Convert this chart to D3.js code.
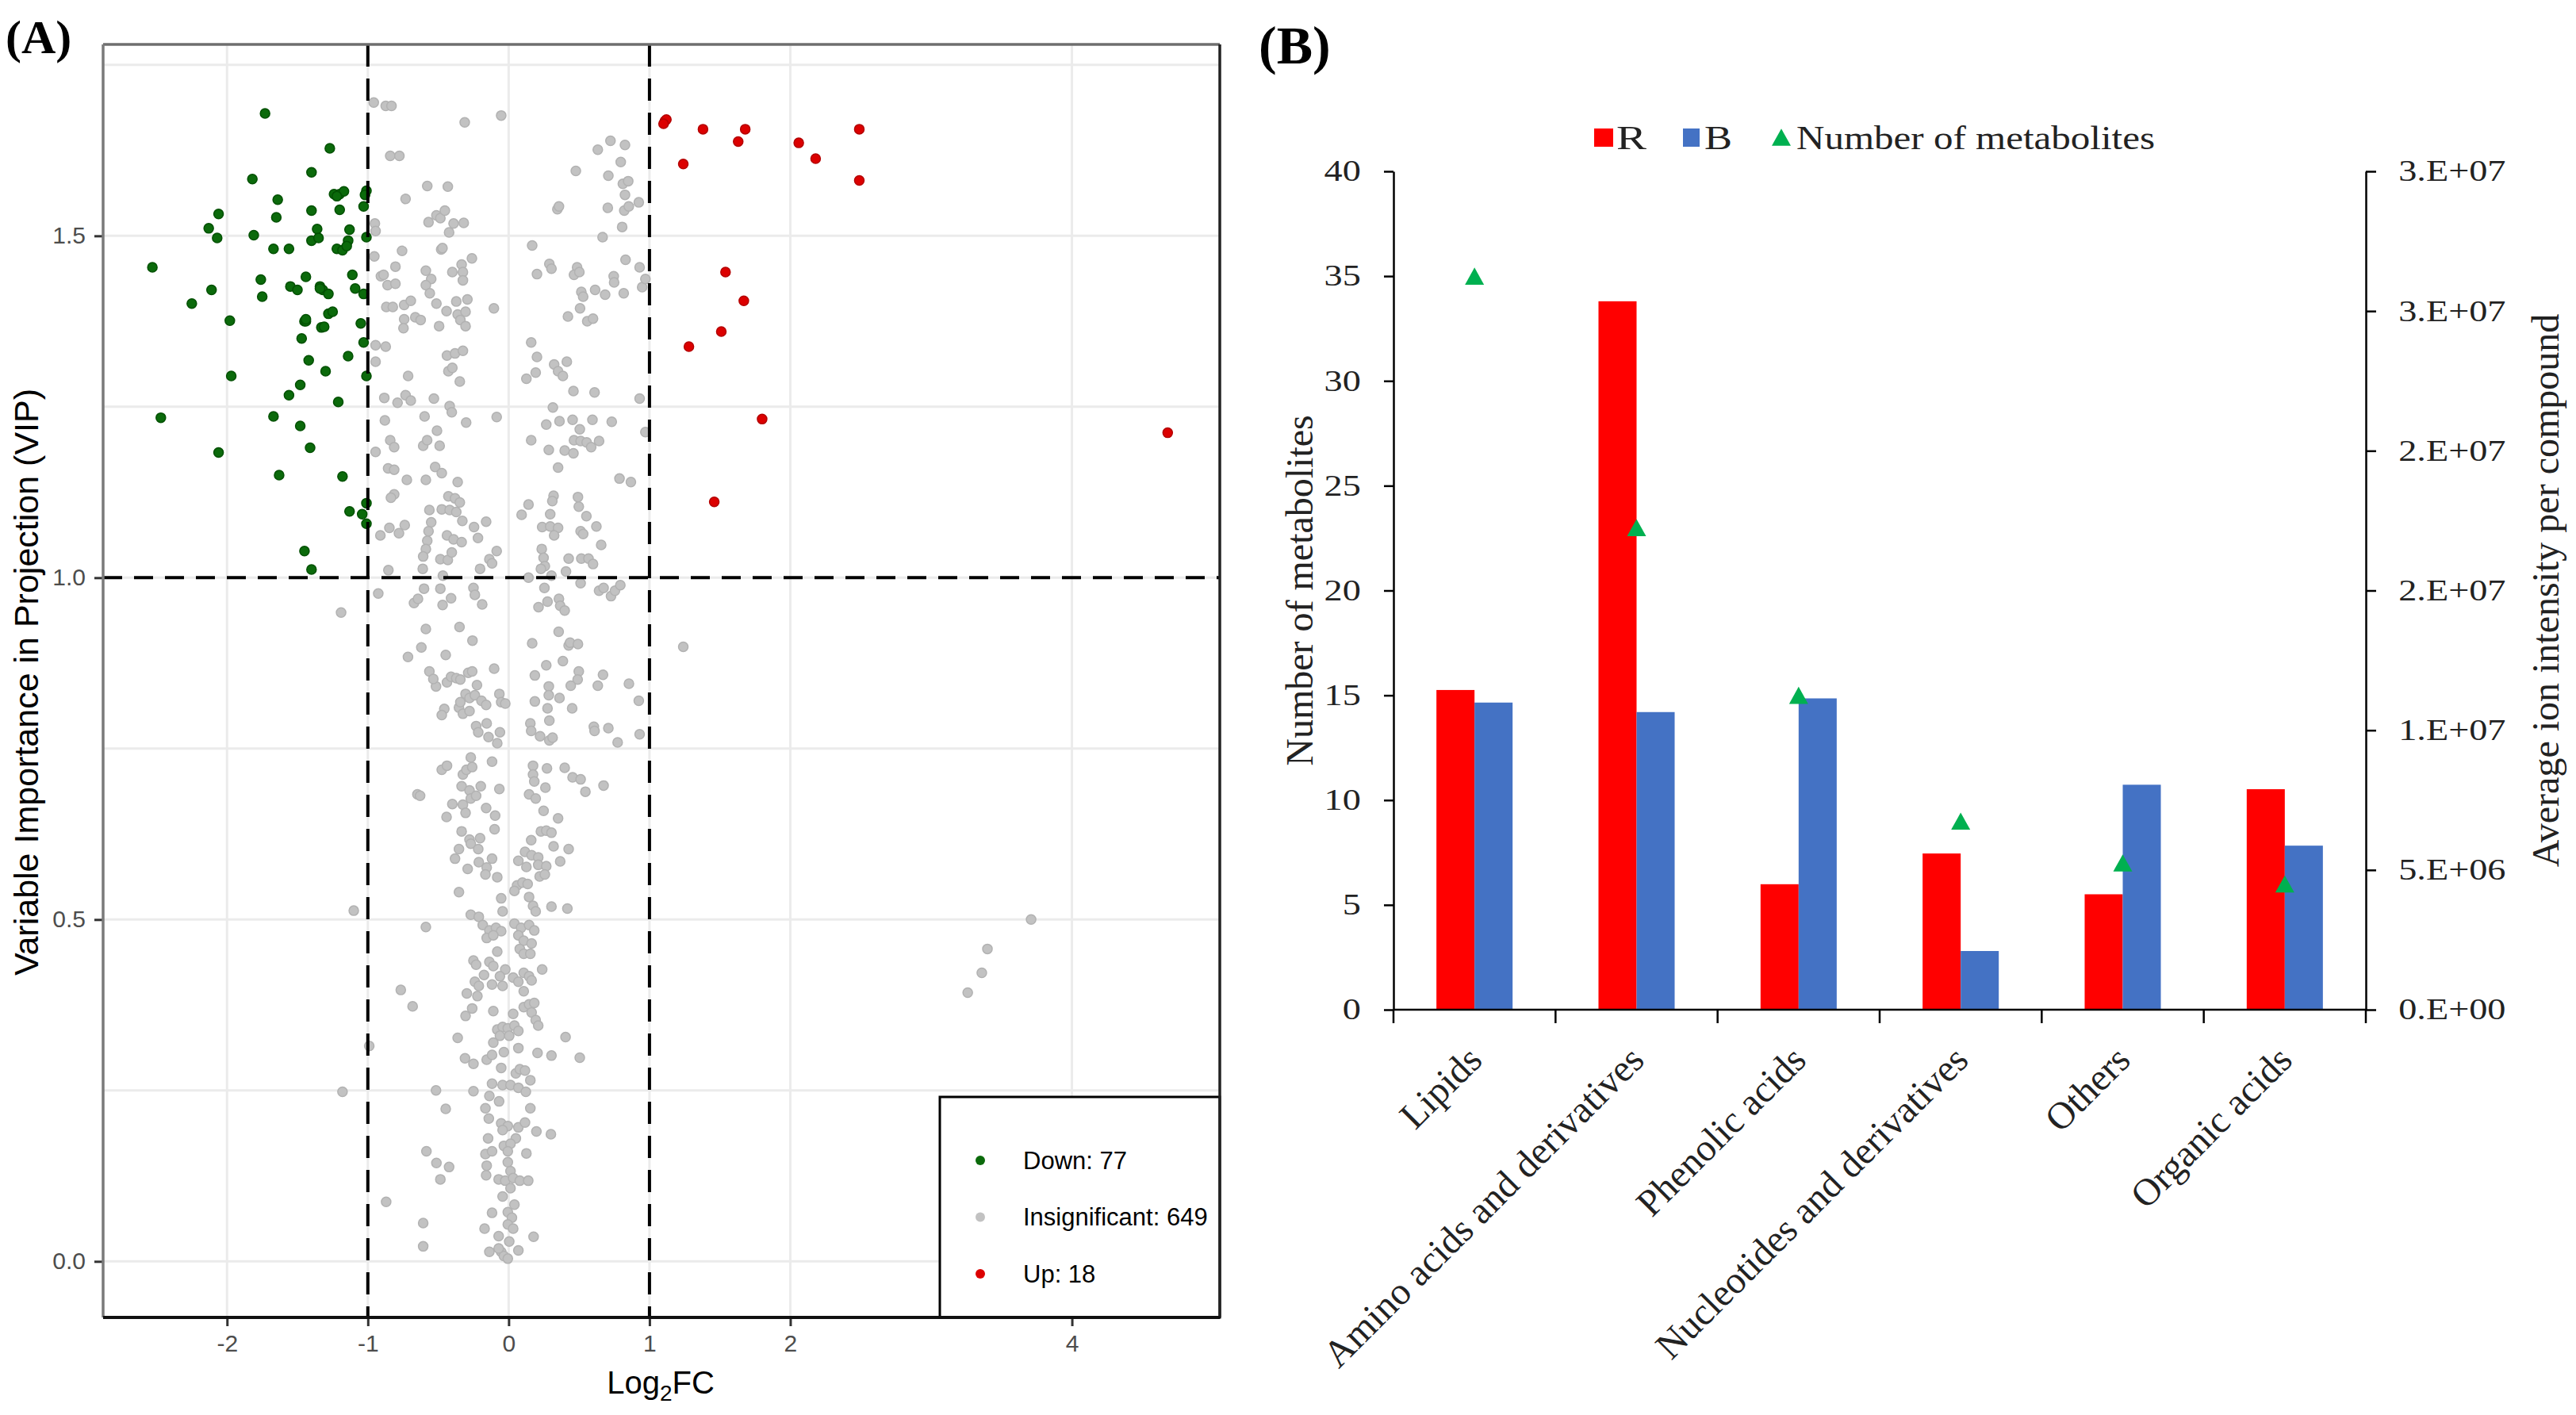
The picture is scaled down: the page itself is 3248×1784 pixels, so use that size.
<!DOCTYPE html>
<html><head><meta charset="utf-8">
<script src="https://cdn.jsdelivr.net/npm/d3@7"></script>
<style>html,body{margin:0;padding:0;background:#fff}svg{display:block}</style>
</head><body>
<svg id="c" width="3248" height="1784"></svg>
<script>
// ---------------- Panel A data (Log2FC, VIP) ----------------
const downPoints = [
[-1.73,1.679],[-1.27,1.628],[-1.82,1.583],[-1.40,1.593],[-1.64,1.553],[-1.24,1.561],[-1.20,1.561],[-1.17,1.565],[-1.01,1.566],
[-1.40,1.537],[-1.20,1.538],[-1.03,1.543],[-2.06,1.532],[-1.65,1.527],[-2.13,1.511],[-2.07,1.497],[-1.81,1.501],[-1.36,1.510],
[-1.40,1.493],[-1.35,1.497],[-1.13,1.509],[-1.01,1.498],[-1.14,1.493],[-1.67,1.481],[-1.56,1.481],[-1.22,1.481],[-1.18,1.479],
[-1.15,1.485],[-2.53,1.454],[-1.11,1.443],[-1.76,1.436],[-1.44,1.440],[-2.11,1.421],[-1.75,1.411],[-1.55,1.426],[-1.50,1.421],
[-1.34,1.426],[-1.32,1.421],[-1.28,1.415],[-1.09,1.423],[-1.03,1.415],[-2.25,1.401],[-1.28,1.386],[-1.25,1.389],[-1.98,1.376],
[-1.45,1.375],[-1.44,1.375],[-1.33,1.366],[-1.31,1.367],[-1.05,1.372],[-1.03,1.344],[-1.47,1.350],[-1.14,1.324],[-1.42,1.318],
[-1.30,1.302],[-1.97,1.295],[-1.01,1.295],[-1.48,1.282],[-1.56,1.267],[-1.21,1.257],[-2.47,1.234],[-1.67,1.236],[-1.48,1.222],
[-1.41,1.190],[-2.06,1.183],[-1.63,1.150],[-1.18,1.148],[-1.13,1.097],[-1.04,1.093],[-1.01,1.109],[-1.01,1.079],[-1.45,1.039],
[-1.40,1.012],[-1.22,1.558],[-1.34,1.423],[-1.44,1.378],[-1.02,1.560]
];
const upPoints = [
[1.11,1.668],[1.12,1.670],[1.10,1.664],[1.38,1.656],[1.68,1.656],[1.63,1.638],[2.06,1.636],[2.49,1.656],[2.18,1.613],
[1.24,1.605],[2.49,1.581],[1.54,1.447],[1.67,1.405],[1.51,1.360],[1.28,1.338],[1.80,1.232],[4.68,1.212],[1.46,1.111]
];
const insigPoints = [
[-0.958,1.695],[-0.873,1.690],[-0.832,1.690],[-0.312,1.666],[-0.053,1.676],[-0.841,1.617],[-0.776,1.617],[-0.578,1.573],[-0.432,1.572],
[-0.732,1.554],[-0.569,1.520],[-0.513,1.530],[-0.485,1.526],[-0.453,1.537],[-0.391,1.518],[-0.319,1.519],[-0.423,1.505],[-0.950,1.518],
[-0.945,1.507],[-0.757,1.478],[-0.479,1.480],[-0.470,1.482],[-0.261,1.467],[-0.804,1.455],[-0.954,1.470],[-0.588,1.449],[-0.907,1.441],
[-0.888,1.443],[-0.860,1.428],[-0.804,1.430],[-0.550,1.437],[-0.588,1.428],[-0.560,1.416],[-0.400,1.447],[-0.334,1.458],[-0.325,1.447],
[-0.325,1.435],[-0.869,1.396],[-0.823,1.396],[-0.742,1.399],[-0.695,1.405],[-0.513,1.401],[-0.441,1.390],[-0.372,1.404],[-0.293,1.407],
[-0.362,1.385],[-0.306,1.389],[-0.343,1.377],[-0.306,1.368],[-0.742,1.378],[-0.663,1.381],[-0.625,1.377],[-0.747,1.365],[-0.494,1.368],
[-0.105,1.394],[-0.945,1.340],[-0.873,1.338],[-0.945,1.316],[-0.438,1.325],[-0.381,1.328],[-0.325,1.332],[-0.428,1.302],[-0.400,1.307],
[-0.714,1.295],[-0.347,1.287],[-0.883,1.263],[-0.789,1.256],[-0.732,1.267],[-0.695,1.259],[-0.531,1.262],[-0.419,1.251],[-0.404,1.242],
[-0.879,1.230],[-0.597,1.236],[-0.509,1.215],[-0.302,1.227],[-0.085,1.235],[-0.841,1.201],[-0.813,1.191],[-0.607,1.193],[-0.579,1.201],
[-0.490,1.193],[-0.945,1.184],[-0.856,1.160],[-0.813,1.158],[-0.522,1.162],[-0.475,1.153],[-0.723,1.143],[-0.588,1.143],[-0.362,1.140],
[0.723,1.639],[0.633,1.626],[0.826,1.633],[0.796,1.608],[0.477,1.595],[0.708,1.588],[0.811,1.576],[0.849,1.580],[0.826,1.560],
[0.924,1.549],[0.704,1.541],[0.821,1.537],[0.853,1.543],[0.346,1.539],[0.357,1.543],[0.806,1.513],[0.667,1.498],[0.167,1.486],
[0.289,1.459],[0.304,1.452],[0.201,1.444],[0.486,1.454],[0.464,1.443],[0.502,1.447],[0.830,1.465],[0.930,1.454],[0.746,1.441],
[0.749,1.432],[0.948,1.425],[0.971,1.437],[0.614,1.421],[0.685,1.414],[0.817,1.416],[0.516,1.418],[0.529,1.411],[0.507,1.394],
[0.421,1.382],[0.558,1.375],[0.599,1.379],[0.160,1.344],[0.201,1.323],[0.192,1.300],[0.126,1.291],[0.323,1.312],[0.351,1.302],
[0.385,1.295],[0.413,1.316],[0.460,1.273],[0.610,1.271],[0.930,1.262],[0.314,1.249],[0.267,1.224],[0.361,1.229],[0.454,1.231],
[0.505,1.217],[0.595,1.231],[0.732,1.228],[0.971,1.213],[0.160,1.201],[0.464,1.201],[0.511,1.200],[0.554,1.198],[0.586,1.191],
[0.642,1.200],[0.285,1.187],[0.398,1.186],[0.460,1.182],[0.351,1.161],[0.787,1.145],[0.868,1.140],
[-0.813,1.122],[-0.836,1.117],[-0.563,1.099],[-0.475,1.100],[-0.428,1.119],[-0.381,1.116],[-0.347,1.110],[-0.419,1.099],[-0.372,1.096],
[-0.329,1.083],[-0.550,1.081],[-0.911,1.062],[-0.847,1.073],[-0.779,1.065],[-0.738,1.077],[-0.569,1.068],[-0.578,1.054],[-0.588,1.042],
[-0.607,1.031],[-0.610,1.013],[-0.438,1.062],[-0.391,1.056],[-0.334,1.052],[-0.246,1.074],[-0.218,1.058],[-0.160,1.082],[-0.485,1.027],
[-0.432,1.026],[-0.404,1.037],[-0.137,1.027],[-0.118,1.021],[-0.085,1.039],[-0.203,1.013],[-0.854,1.011],[-0.467,1.003],
[0.141,1.107],[0.092,1.092],[0.319,1.120],[0.310,1.112],[0.295,1.093],[0.492,1.118],[0.498,1.104],[0.552,1.090],[0.623,1.075],
[0.238,1.074],[0.295,1.075],[0.351,1.073],[0.323,1.062],[0.511,1.068],[0.529,1.064],[0.657,1.048],[0.235,1.042],[0.248,1.029],
[0.257,1.017],[0.229,1.013],[0.426,1.028],[0.516,1.028],[0.567,1.028],[0.599,1.020],[0.407,1.009],[0.141,1.000],[0.304,1.003],
[-0.926,0.977],[-0.672,0.963],[-0.644,0.969],[-0.601,0.984],[-0.485,0.984],[-0.409,0.970],[-0.469,0.960],[-0.250,0.985],[-0.240,0.975],
[-0.188,0.961],[0.254,0.985],[0.511,0.992],[0.642,0.981],[0.674,0.985],[0.727,0.973],[0.755,0.981],[0.793,0.989],[0.276,0.965],
[0.212,0.957],[0.357,0.969],[0.366,0.959],[0.398,0.952],[-0.588,0.925],[-0.349,0.928],[-0.257,0.908],[-0.620,0.898],[-0.715,0.884],
[-0.447,0.887],[0.167,0.904],[0.355,0.921],[0.426,0.901],[0.436,0.905],[0.492,0.903],[0.385,0.878],[0.267,0.872],[-0.103,0.867],
[-0.563,0.863],[-0.516,0.841],[-0.535,0.852],[-0.438,0.847],[-0.409,0.855],[-0.372,0.853],[-0.343,0.851],[-0.287,0.861],[-0.259,0.863],
[-0.225,0.843],[-0.306,0.830],[-0.278,0.824],[-0.240,0.828],[-0.193,0.820],[-0.160,0.814],[-0.353,0.810],[-0.325,0.801],[-0.278,0.805],
[-0.343,0.818],[-0.066,0.830],[-0.053,0.818],[-0.024,0.816],[-0.457,0.808],[-0.475,0.799],[0.186,0.857],[0.285,0.841],[0.285,0.828],
[0.361,0.824],[0.498,0.863],[0.490,0.851],[0.441,0.842],[0.633,0.842],[0.670,0.858],[0.854,0.845],[0.924,0.820],[0.186,0.819],
[0.276,0.809],[0.451,0.809],[0.289,0.791],[0.154,0.787],[0.160,0.776],[0.223,0.768],[0.289,0.762],[0.312,0.766],[0.605,0.782],
[0.610,0.776],[0.708,0.780],[0.774,0.759],[0.930,0.771],[-0.231,0.783],[-0.216,0.774],[-0.156,0.787],[-0.143,0.767],[-0.062,0.774],
[-0.081,0.758],[-0.269,0.737],[-0.118,0.731],[-0.475,0.719],[-0.438,0.725],[-0.325,0.712],[-0.300,0.719],[-0.259,0.723],[-0.334,0.695],
[-0.278,0.689],[-0.198,0.695],[-0.066,0.691],[-0.648,0.683],[-0.629,0.681],[-0.400,0.669],[-0.325,0.668],[-0.306,0.656],[-0.269,0.677],
[-0.231,0.681],[-0.160,0.663],[-0.096,0.652],[-0.441,0.650],[-0.100,0.632],[0.173,0.725],[0.173,0.712],[0.182,0.702],[0.272,0.721],
[0.398,0.722],[0.454,0.708],[0.511,0.705],[0.545,0.687],[0.674,0.696],[0.261,0.693],[0.145,0.683],[0.192,0.677],[0.248,0.659],
[0.351,0.648],[0.229,0.629],[0.267,0.630],[0.304,0.627],[0.160,0.616],[0.319,0.607],[0.426,0.603],[0.366,0.585],[0.116,0.599],
[0.163,0.594],[0.210,0.591],[0.069,0.586],[0.126,0.577],[0.210,0.580],[0.267,0.578],[0.220,0.563],[0.257,0.566],[-0.334,0.629],
[-0.278,0.617],[-0.269,0.611],[-0.203,0.619],[-0.216,0.603],[-0.353,0.603],[-0.381,0.589],[-0.212,0.584],[-0.156,0.576],[-0.118,0.589],
[-0.081,0.562],[-0.165,0.566],[-0.291,0.574],[-0.353,0.540],[-0.053,0.531],[0.060,0.550],[0.098,0.554],[0.135,0.552],[0.041,0.542],
[0.145,0.533],[0.173,0.520],[0.192,0.512],[0.304,0.519],[0.417,0.516],[-0.043,0.512],[-0.269,0.507],[-0.212,0.504],
[-0.588,0.489],[-0.184,0.492],[-0.137,0.484],[-0.090,0.488],[-0.053,0.483],[-0.156,0.473],[-0.109,0.477],[0.041,0.494],[0.088,0.488],
[0.145,0.492],[0.182,0.484],[0.069,0.477],[0.107,0.469],[0.163,0.465],[0.079,0.457],[0.107,0.450],[0.154,0.450],[-0.081,0.453],
[-0.250,0.440],[-0.231,0.434],[-0.137,0.438],[-0.109,0.432],[-0.024,0.427],[0.238,0.427],[-0.175,0.419],[-0.062,0.417],[0.032,0.415],
[0.069,0.409],[0.107,0.422],[0.145,0.417],[0.163,0.411],[-0.240,0.409],[-0.212,0.403],[-0.118,0.405],[-0.043,0.403],[-0.297,0.392],
[-0.222,0.388],[0.107,0.395],[-0.766,0.397],[-0.682,0.373],[-0.109,0.366],[-0.259,0.370],[-0.306,0.359],[0.032,0.362],[0.107,0.372],
[0.145,0.376],[0.182,0.378],[0.163,0.364],[0.192,0.353],[0.210,0.345],[-0.081,0.339],[-0.043,0.343],[-0.006,0.341],[0.041,0.345],
[0.069,0.337],[-0.062,0.330],[0.004,0.330],[-0.109,0.320],[-0.362,0.327],[0.404,0.328],[-0.034,0.306],[0.069,0.312],[0.205,0.305],
[0.304,0.301],[0.505,0.298],[-0.310,0.297],[-0.250,0.289],[-0.156,0.295],[-0.118,0.302],[-0.053,0.283],[0.051,0.275],[0.079,0.281],
[0.116,0.279],[0.154,0.265],[-0.118,0.260],[-0.043,0.258],[0.013,0.258],[0.069,0.254],[0.122,0.248],[-0.516,0.250],[-0.250,0.249],
[-0.137,0.242],[-0.068,0.234],[-0.447,0.223],[-0.165,0.224],[0.154,0.224],[-0.141,0.209],[-0.053,0.202],[-0.006,0.198],[0.069,0.196],
[0.116,0.203],[-0.043,0.192],[0.197,0.190],[0.300,0.186],[-0.146,0.180],[0.051,0.180],[-0.034,0.169],[0.013,0.172],[-0.006,0.161],
[0.126,0.158],[-0.584,0.161],[-0.165,0.157],[-0.118,0.161],[-0.156,0.140],[-0.513,0.144],[-0.423,0.138],[-0.006,0.145],[0.013,0.132],
[-0.160,0.126],[-0.071,0.120],[-0.024,0.118],[0.032,0.122],[0.079,0.118],[0.139,0.118],[-0.485,0.120],[0.013,0.107],[-0.043,0.095],
[0.041,0.083],[-0.118,0.071],[-0.006,0.072],[0.023,0.064],[-0.006,0.054],[0.032,0.048],[-0.607,0.056],[-0.171,0.048],[-0.071,0.037],
[0.004,0.029],[0.177,0.036],[-0.607,0.022],[-0.137,0.014],[-0.053,0.014],[-0.034,0.008],[-0.006,0.004],[0.069,0.016],[-0.071,0.019],
[3.71,0.500],[3.40,0.457],[3.36,0.422],[3.26,0.393],[1.24,0.899],[-1.19,0.949],[-1.10,0.513],[-1.18,0.248],[-0.99,0.315],[-0.87,0.087]
];
const xTicksA = [-2, -1, 0, 1, 2, 4];
const yTicksA = [0, 0.5, 1, 1.5];
const yMinorA = [0.25, 0.75, 1.25, 1.75];
const legendLabelsA = ["Down: 77", "Insignificant: 649", "Up: 18"];
const thresholdsX = [-1, 1];
const thresholdY = 1;

// ---------------- Panel B data ----------------
const categories = ["Lipids", "Amino acids and derivatives", "Phenolic acids", "Nucleotides and derivatives", "Others", "Organic acids"];
const seriesR = [1.144e7, 2.535e7, 4.49e6, 5.59e6, 4.13e6, 7.89e6];
const seriesB = [1.099e7, 1.065e7, 1.114e7, 2.1e6, 8.05e6, 5.87e6];
const metaboliteCounts = [35, 23, 15, 9, 7, 6];
const leftTicksB = [0, 5, 10, 15, 20, 25, 30, 35, 40];
const rightTicksB = [0, 5e6, 1e7, 1.5e7, 2e7, 2.5e7, 3e7];
const rightTickLabelsB = ["0.E+00", "5.E+06", "1.E+07", "2.E+07", "2.E+07", "3.E+07", "3.E+07"];

const SANS = "'Liberation Sans', Arial, sans-serif";
const SERIF = "'Liberation Serif', 'Times New Roman', serif";
const svg = d3.select("#c");
svg.append("rect").attr("width", 3248).attr("height", 1784).attr("fill", "#fff");

// ================= PANEL A =================
const A = { l: 130, r: 1538, t: 56, b: 1661 };
const xA = d3.scaleLinear([-2.88, 5.05], [A.l, A.r]);
const yA = d3.scaleLinear([-0.082, 1.78], [A.b, A.t]);
const gA = svg.append("g");

// grid
gA.selectAll(".gx").data(xTicksA).join("line")
  .attr("x1", d => xA(d)).attr("x2", d => xA(d)).attr("y1", A.t).attr("y2", A.b)
  .attr("stroke", "#ebebeb").attr("stroke-width", 3);
gA.selectAll(".gy").data(yTicksA.concat(yMinorA)).join("line")
  .attr("x1", A.l).attr("x2", A.r).attr("y1", d => yA(d)).attr("y2", d => yA(d))
  .attr("stroke", "#ebebeb").attr("stroke-width", 3);

// points
function drawPts(data, fill, stroke) {
  gA.append("g").selectAll("circle").data(data).join("circle")
    .attr("cx", d => xA(d[0])).attr("cy", d => yA(d[1])).attr("r", 6)
    .attr("fill", fill).attr("stroke", stroke).attr("stroke-width", 1.5);
}
drawPts(downPoints, "#0b6a0b", "#035003");
drawPts(insigPoints, "#c2c2c2", "#b2b2b2");
drawPts(upPoints, "#dc0000", "#b40000");

// threshold lines
gA.selectAll(".vl").data(thresholdsX).join("line")
  .attr("x1", d => xA(d)).attr("x2", d => xA(d)).attr("y1", A.t).attr("y2", A.b)
  .attr("stroke", "#000").attr("stroke-width", 4).attr("stroke-dasharray", "28,15");
gA.append("line").attr("x1", A.l).attr("x2", A.r).attr("y1", yA(thresholdY)).attr("y2", yA(thresholdY))
  .attr("stroke", "#000").attr("stroke-width", 4).attr("stroke-dasharray", "24,15");

// axes
const axLA = gA.append("g").attr("transform", `translate(${A.l},0)`)
  .call(d3.axisLeft(yA).tickValues(yTicksA).tickFormat(d3.format(".1f")).tickSize(11).tickPadding(11));
const axBA = gA.append("g").attr("transform", `translate(0,${A.b})`)
  .call(d3.axisBottom(xA).tickValues(xTicksA).tickFormat(d => String(d)).tickSize(11).tickPadding(11));
[axLA, axBA].forEach(ax => {
  ax.select(".domain").remove();
  ax.selectAll(".tick line").attr("stroke", "#333").attr("stroke-width", 3);
  ax.selectAll(".tick text").attr("fill", "#4d4d4d").style("font-family", SANS).style("font-size", "30px");
});

// legend
const legA = gA.append("g");
legA.append("rect").attr("x", 1185).attr("y", 1383).attr("width", A.r - 1185).attr("height", A.b - 1383)
  .attr("fill", "#fff").attr("stroke", "#000").attr("stroke-width", 3);
const legColors = ["#0b6a0b", "#c2c2c2", "#dc0000"];
const legY = d3.scalePoint().domain(legendLabelsA).range([1463, 1606]);
legendLabelsA.forEach((lab, i) => {
  legA.append("circle").attr("cx", 1236).attr("cy", legY(lab)).attr("r", 6).attr("fill", legColors[i]);
  legA.append("text").attr("x", 1290).attr("y", legY(lab)).attr("dominant-baseline", "central")
    .style("font-family", SANS).style("font-size", "31px").attr("fill", "#000").text(lab);
});

// frame
gA.append("line").attr("x1", A.l).attr("x2", A.r).attr("y1", A.t).attr("y2", A.t).attr("stroke", "#6e6e6e").attr("stroke-width", 3.5);
gA.append("line").attr("x1", A.l).attr("x2", A.l).attr("y1", A.t).attr("y2", A.b).attr("stroke", "#7a7a7a").attr("stroke-width", 3.5);
gA.append("line").attr("x1", A.r).attr("x2", A.r).attr("y1", A.t).attr("y2", A.b).attr("stroke", "#222").attr("stroke-width", 3.5);
gA.append("line").attr("x1", A.l).attr("x2", A.r).attr("y1", A.b).attr("y2", A.b).attr("stroke", "#111").attr("stroke-width", 4);

// titles
gA.append("text").attr("transform", "translate(48,860) rotate(-90)").attr("text-anchor", "middle")
  .style("font-family", SANS).style("font-size", "43px").text("Variable Importance in Projection (VIP)");
const xt = gA.append("text").attr("x", 833).attr("y", 1757).attr("text-anchor", "middle")
  .style("font-family", SANS).style("font-size", "40px");
xt.append("tspan").text("Log");
xt.append("tspan").attr("dy", 9).style("font-size", "28px").text("2");
xt.append("tspan").attr("dy", -9).text("FC");
svg.append("text").attr("x", 7).attr("y", 67).style("font-family", SERIF).style("font-weight", "bold")
  .style("font-size", "60px").text("(A)");

// ================= PANEL B =================
const B = { l: 1757, r: 2983, t: 216, b: 1273 };
const xB = d3.scaleBand(categories, [B.l, B.r]).paddingInner(0.53).paddingOuter(0.265);
const xSub = d3.scaleBand(["R", "B"], [0, xB.bandwidth()]);
const yL = d3.scaleLinear([0, 40], [B.b, B.t]);
const yR = d3.scaleLinear([0, 3e7], [B.b, B.t]);
const gB = svg.append("g");

// bars
gB.selectAll(".barR").data(categories).join("rect")
  .attr("x", c => xB(c) + xSub("R")).attr("width", xSub.bandwidth())
  .attr("y", (c, i) => yR(seriesR[i])).attr("height", (c, i) => yR(0) - yR(seriesR[i]))
  .attr("fill", "#ff0000");
gB.selectAll(".barB").data(categories).join("rect")
  .attr("x", c => xB(c) + xSub("B")).attr("width", xSub.bandwidth())
  .attr("y", (c, i) => yR(seriesB[i])).attr("height", (c, i) => yR(0) - yR(seriesB[i]))
  .attr("fill", "#4472c4");

// triangles
const triType = { draw(ctx, size) { const w = Math.sqrt(size); ctx.moveTo(0, -w * 0.45); ctx.lineTo(w / 2, w * 0.45); ctx.lineTo(-w / 2, w * 0.45); ctx.closePath(); } };
const tri = d3.symbol(triType, 24 * 24);
gB.selectAll(".tri").data(categories).join("path")
  .attr("d", tri).attr("fill", "#00b050")
  .attr("transform", (c, i) => `translate(${xB(c) + xB.bandwidth() / 2},${yL(metaboliteCounts[i])})`);

// axes
const axLB = gB.append("g").attr("transform", `translate(${B.l},0)`)
  .call(d3.axisLeft(yL).tickValues(leftTicksB).tickSize(12).tickSizeOuter(0).tickPadding(21));
const axRB = gB.append("g").attr("transform", `translate(${B.r},0)`)
  .call(d3.axisRight(yR).tickValues(rightTicksB).tickFormat((d, i) => rightTickLabelsB[i]).tickSize(13).tickSizeOuter(0).tickPadding(20));
[axLB, axRB].forEach(ax => {
  ax.select(".domain").attr("stroke", "#000").attr("stroke-width", 2.5);
  ax.selectAll(".tick line").attr("stroke", "#000").attr("stroke-width", 2.5);
  ax.selectAll(".tick text").attr("fill", "#222").attr("transform", "scale(1.25,1)")
    .style("font-family", SERIF).style("font-size", "37px");
});
// bottom axis with category boundary ticks
gB.append("line").attr("x1", B.l).attr("x2", B.r).attr("y1", B.b).attr("y2", B.b).attr("stroke", "#000").attr("stroke-width", 2.5);
const boundaries = d3.range(categories.length + 1).map(i => B.l + i * xB.step());
gB.selectAll(".bt").data(boundaries).join("line")
  .attr("x1", d => d).attr("x2", d => d).attr("y1", B.b).attr("y2", B.b + 17)
  .attr("stroke", "#000").attr("stroke-width", 2.5);
gB.selectAll(".cl").data(categories).join("text")
  .attr("transform", c => `translate(${xB(c) + xB.bandwidth() / 2 + 12},${B.b + 66}) rotate(-45)`)
  .attr("text-anchor", "end").style("font-family", SERIF).style("font-size", "48px").attr("fill", "#222")
  .text(c => c);

// axis titles
gB.append("text").attr("transform", `translate(1655,${(B.t + B.b) / 2}) rotate(-90)`).attr("text-anchor", "middle")
  .style("font-family", SERIF).style("font-size", "48px").attr("fill", "#222").text("Number of metabolites");
gB.append("text").attr("transform", `translate(3226,${(B.t + B.b) / 2}) rotate(-90)`).attr("text-anchor", "middle")
  .style("font-family", SERIF).style("font-size", "48px").attr("fill", "#222").text("Average ion intensity per compound");

// legend
const lg = gB.append("g");
lg.append("rect").attr("x", 2010).attr("y", 162).attr("width", 24).attr("height", 23).attr("fill", "#ff0000");
lg.append("text").attr("x", 2038).attr("y", 188).attr("textLength", 38).attr("lengthAdjust", "spacingAndGlyphs")
  .style("font-family", SERIF).style("font-size", "42px").attr("fill", "#222").text("R");
lg.append("rect").attr("x", 2122).attr("y", 162).attr("width", 21).attr("height", 23).attr("fill", "#4472c4");
lg.append("text").attr("x", 2149).attr("y", 188).attr("textLength", 35).attr("lengthAdjust", "spacingAndGlyphs")
  .style("font-family", SERIF).style("font-size", "42px").attr("fill", "#222").text("B");
lg.append("path").attr("d", tri).attr("fill", "#00b050").attr("transform", "translate(2246,173)");
lg.append("text").attr("x", 2265).attr("y", 188).attr("textLength", 452).attr("lengthAdjust", "spacingAndGlyphs")
  .style("font-family", SERIF).style("font-size", "42px").attr("fill", "#222").text("Number of metabolites");

svg.append("text").attr("x", 1587).attr("y", 80).style("font-family", SERIF).style("font-weight", "bold")
  .style("font-size", "68px").text("(B)");
</script>
</body></html>
